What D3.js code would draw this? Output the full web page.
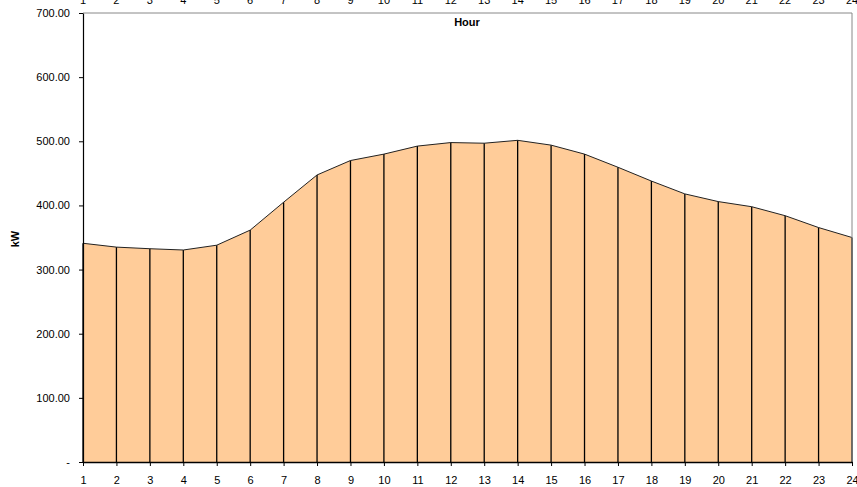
<!DOCTYPE html>
<html>
<head>
<meta charset="utf-8">
<script src="https://d3js.org/d3.v7.min.js"></script>
<style>
  body { margin: 0; background: #fff; }
  text { font-family: "Liberation Sans", Arial, sans-serif; }
</style>
</head>
<body>
<div id="chart"></div>
<script>
var w = 857, h = 487;
var margin = {top: 13, right: 5, bottom: 25, left: 83};

var hours = d3.range(1, 25);
var kw = [341, 335, 332.5, 330.5, 338, 361.5, 405, 447.5, 470, 480, 492.5, 498,
          497, 501.5, 494, 480, 459.5, 438, 418, 406, 398, 384, 365.5, 350];
var yTicks = [0, 100, 200, 300, 400, 500, 600, 700];

var data = hours.map((hr, i) => ({hour: hr, value: kw[i]}));

var svg = d3.select('#chart').append('svg')
  .attr('width', w)
  .attr('height', h);

var xScale = d3.scaleLinear()
  .domain([1, 24])
  .range([margin.left, w - margin.right]);

var yScale = d3.scaleLinear()
  .domain([0, 700])
  .range([h - margin.bottom, margin.top]);

// area
var area = d3.area()
  .x(d => xScale(d.hour))
  .y0(yScale(0))
  .y1(d => yScale(d.value));

svg.append('path')
  .datum(data)
  .attr('d', area)
  .attr('fill', '#ffcc99');

// vertical drop lines
svg.selectAll('.drop')
  .data(data)
  .enter().append('line')
  .attr('class', 'drop')
  .attr('x1', d => xScale(d.hour))
  .attr('x2', d => xScale(d.hour))
  .attr('y1', yScale(0))
  .attr('y2', d => yScale(d.value))
  .attr('stroke', '#000')
  .attr('stroke-width', 1.3);

// top outline
var line = d3.line()
  .x(d => xScale(d.hour))
  .y(d => yScale(d.value));

svg.append('path')
  .datum(data)
  .attr('d', line)
  .attr('fill', 'none')
  .attr('stroke', '#222')
  .attr('stroke-width', 1);

// frame top & right (gray)
svg.append('line')
  .attr('x1', xScale(1)).attr('x2', xScale(24))
  .attr('y1', yScale(700)).attr('y2', yScale(700))
  .attr('stroke', '#888');
svg.append('line')
  .attr('x1', xScale(24)).attr('x2', xScale(24))
  .attr('y1', yScale(700)).attr('y2', yScale(0))
  .attr('stroke', '#888');

// top category labels (partly above the page edge, as in the original)
svg.selectAll('.toplab')
  .data(hours)
  .enter().append('text')
  .attr('x', d => xScale(d))
  .attr('y', 4)
  .attr('text-anchor', 'middle')
  .attr('font-size', 11)
  .attr('fill', '#000')
  .text(d => d);

// x axis bottom
var xAxis = d3.axisBottom(xScale)
  .tickValues(hours)
  .tickFormat(d3.format('d'))
  .tickSizeInner(4)
  .tickSizeOuter(0)
  .tickPadding(10);

var gx = svg.append('g')
  .attr('transform', `translate(0, ${yScale(0)})`)
  .call(xAxis);
gx.select('.domain').attr('stroke', '#000').attr('stroke-width', 1.5);
gx.selectAll('text').attr('font-size', 11).attr('font-family', '"Liberation Sans", Arial, sans-serif');

// y axis
var yAxis = d3.axisLeft(yScale)
  .tickValues(yTicks)
  .tickFormat(d => d === 0 ? '-' : d3.format('.2f')(d))
  .tickSizeInner(4)
  .tickSizeOuter(0)
  .tickPadding(9);

var gy = svg.append('g')
  .attr('transform', `translate(${margin.left}, 0)`)
  .call(yAxis);
gy.select('.domain').attr('stroke', '#000').attr('stroke-width', 1.2);
gy.selectAll('text').attr('font-size', 11).attr('font-family', '"Liberation Sans", Arial, sans-serif');

// axis titles
svg.append('text')
  .attr('x', 467)
  .attr('y', 26)
  .attr('text-anchor', 'middle')
  .attr('font-size', 11)
  .attr('font-weight', 'bold')
  .text('Hour');

svg.append('text')
  .attr('transform', `translate(19, 239) rotate(-90)`)
  .attr('text-anchor', 'middle')
  .attr('font-size', 11)
  .attr('font-weight', 'bold')
  .text('kW');
</script>
</body>
</html>
